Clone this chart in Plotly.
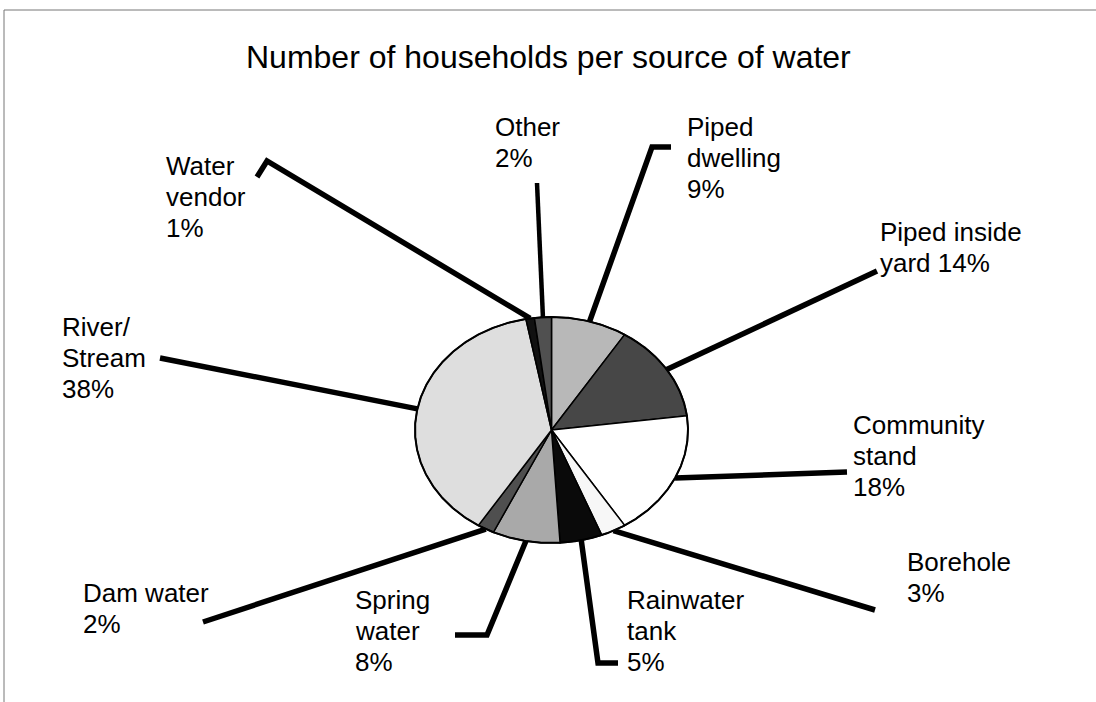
import numpy as np
import plotly.graph_objects as go

# ---- data (clockwise from 12 o'clock) ----
sources = ["Piped dwelling", "Piped inside yard", "Community stand", "Borehole",
           "Rainwater tank", "Spring water", "Dam water", "River/Stream",
           "Water vendor", "Other"]
percent = [9, 14, 18, 3, 5, 8, 2, 38, 1, 2]
label_lines = [["Piped", "dwelling"], ["Piped inside", "yard"], ["Community", "stand"],
               ["Borehole"], ["Rainwater", "tank"], ["Spring", "water"], ["Dam water"],
               ["River/", "Stream"], ["Water", "vendor"], ["Other"]]
# whether the percentage sits on the same line as the last word
pct_inline = [False, True, False, False, False, False, False, False, False, False]

# ---- style / layout ----
slice_colors = ["#b8b8b8", "#474747", "#ffffff", "#f7f7f7", "#0a0a0a",
                "#a9a9a9", "#4f4f4f", "#dedede", "#111111", "#505050"]
W, H = 1096, 702
CX, CY, RX, RY = 551.5, 430.0, 136.5, 113.0
# (left x, centre y of first text line)
label_pos = [(685, 127), (878, 232), (851, 425), (905, 562), (625, 600),
             (353, 600), (81, 593), (60, 327), (164, 166), (493, 127)]
LINE_STEP = 31
leader_tail = [[(652, 147), (671, 147)], [(877, 271)], [(847, 472)], [(875, 610)],
               [(598, 663), (618, 663)], [(487, 635), (455, 635)], [(203, 622)],
               [(160, 358)], [(267, 161), (257, 177)], [(537, 183)]]
FONT = "Liberation Sans, Arial, sans-serif"


def pt(theta_deg, r=1.0):
    t = np.radians(theta_deg)
    return CX + r * RX * np.sin(t), CY - r * RY * np.cos(t)


fig = go.Figure()

total = float(sum(percent))
cum = np.concatenate([[0.0], np.cumsum(percent)]) / total * 360.0

# leader lines (under the pie)
for i in range(len(percent)):
    mid = (cum[i] + cum[i + 1]) / 2.0
    sx, sy = pt(mid)
    xs = [sx] + [p[0] for p in leader_tail[i]]
    ys = [sy] + [p[1] for p in leader_tail[i]]
    fig.add_trace(go.Scatter(x=xs, y=ys, mode="lines",
                             line=dict(color="black", width=5.5 if i != 9 else 4.5),
                             hoverinfo="skip", showlegend=False))

# slices
for i in range(len(percent)):
    th = np.linspace(cum[i], cum[i + 1], max(4, int((cum[i + 1] - cum[i]) * 2)))
    ex, ey = pt(th)
    xs = np.concatenate([[CX], ex, [CX]])
    ys = np.concatenate([[CY], ey, [CY]])
    fig.add_trace(go.Scatter(x=xs, y=ys, mode="lines", fill="toself",
                             fillcolor=slice_colors[i],
                             line=dict(color="black", width=1.5),
                             name=sources[i], showlegend=False))

# outer outline
th = np.linspace(0, 360, 721)
ox, oy = pt(th)
fig.add_trace(go.Scatter(x=ox, y=oy, mode="lines", line=dict(color="black", width=2),
                         hoverinfo="skip", showlegend=False))

# labels (one annotation per text line for exact line spacing)
for i in range(len(percent)):
    lines = list(label_lines[i])
    if pct_inline[i]:
        lines[-1] = f"{lines[-1]} {percent[i]}%"
    else:
        lines.append(f"{percent[i]}%")
    for k, ln in enumerate(lines):
        fig.add_annotation(x=label_pos[i][0], y=label_pos[i][1] + k * LINE_STEP, text=ln,
                           xanchor="left", yanchor="middle", align="left", showarrow=False,
                           font=dict(family=FONT, size=26, color="black"))

fig.add_annotation(x=548, y=57, text="Number of households per source of water",
                   xanchor="center", yanchor="middle", showarrow=False,
                   font=dict(family=FONT, size=32, color="black"))

# frame
fig.add_shape(type="line", x0=4, y0=10, x1=W, y1=10, line=dict(color="#777", width=1))
fig.add_shape(type="line", x0=4, y0=10, x1=4, y1=H, line=dict(color="#777", width=1))

fig.update_xaxes(range=[0, W], visible=False, fixedrange=True)
fig.update_yaxes(range=[H, 0], visible=False, fixedrange=True)
fig.update_layout(width=W, height=H, autosize=False,
                  margin=dict(l=0, r=0, t=0, b=0),
                  paper_bgcolor="white", plot_bgcolor="white")

fig.write_html("out.html")
